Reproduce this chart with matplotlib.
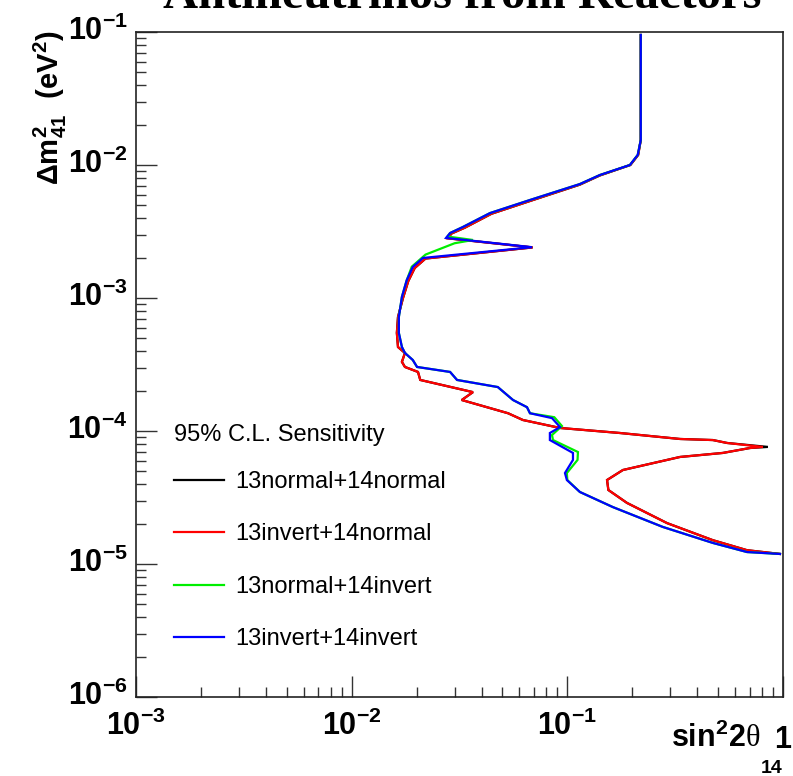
import matplotlib
matplotlib.use("Agg")
import matplotlib.pyplot as plt
import matplotlib.transforms as mtrans
from matplotlib.ticker import FixedLocator, FixedFormatter, LogLocator, NullFormatter

plt.rcParams['font.family'] = ['Liberation Sans', 'DejaVu Sans']
plt.rcParams['mathtext.fontset'] = 'custom'
plt.rcParams['mathtext.bf'] = 'Liberation Sans:bold'
plt.rcParams['mathtext.rm'] = 'Liberation Serif'
plt.rcParams['mathtext.it'] = 'Liberation Sans:italic'

# ---------------- data ----------------
series_labels = ["13normal+14normal", "13invert+14normal",
                 "13normal+14invert", "13invert+14invert"]
series_colors = ["#000000", "#ff0000", "#00ee00", "#0000ff"]

# 13invert+14invert (blue)
ii_x = [0.219, 0.219, 0.212, 0.195, 0.1416, 0.1143, 0.0672, 0.0438, 0.0328, 0.0286,
        0.0274, 0.0686, 0.0214, 0.0192, 0.0180, 0.0171, 0.01655, 0.01655, 0.0171, 0.01766,
        0.0192, 0.0201, 0.0286, 0.0308, 0.0476, 0.0560, 0.0650, 0.0671, 0.0849, 0.0925,
        0.0830, 0.0830, 0.1062, 0.1062, 0.0975, 0.0995, 0.1143, 0.1625, 0.277, 0.473,
        0.681, 0.968]
ii_y = [0.095, 0.0154, 0.0119, 0.0100, 0.00841, 0.00719, 0.00546, 0.00435, 0.00342, 0.00308,
        0.00283, 0.00241, 0.00200, 0.00171, 0.00136, 0.00102, 0.00072, 0.000546, 0.000428, 0.000386,
        0.000342, 0.000303, 0.000278, 0.000242, 0.000214, 0.000171, 0.000151, 0.000136, 0.000125, 0.000107,
        9.66e-5, 8.55e-5, 6.84e-5, 6.06e-5, 4.83e-5, 4.28e-5, 3.48e-5, 2.68e-5, 1.90e-5, 1.44e-5,
        1.23e-5, 1.19e-5]

# 13normal+14invert (green)
ni_x = [0.219, 0.219, 0.212, 0.195, 0.1416, 0.1143, 0.0672, 0.0438, 0.0328, 0.0286,
        0.0278, 0.0365, 0.0300, 0.0220, 0.0190, 0.0180, 0.0171, 0.01655, 0.01655,
        0.0171, 0.01766, 0.0192, 0.0201, 0.0286, 0.0308, 0.0476, 0.0560, 0.0650, 0.0671,
        0.0870, 0.0944, 0.0849, 0.0858, 0.1120, 0.1115, 0.0995, 0.1000, 0.1143, 0.1625,
        0.277, 0.473, 0.681, 0.968]
ni_y = [0.095, 0.0154, 0.0119, 0.0100, 0.00841, 0.00719, 0.00546, 0.00435, 0.00342, 0.00308,
        0.00290, 0.00273, 0.00258, 0.00212, 0.00172, 0.00136, 0.00102, 0.00072, 0.000546,
        0.000428, 0.000386, 0.000342, 0.000303, 0.000278, 0.000242, 0.000214, 0.000171, 0.000151, 0.000136,
        0.000127, 0.000109, 9.33e-5, 8.55e-5, 6.95e-5, 6.06e-5, 4.83e-5, 4.28e-5, 3.48e-5, 2.68e-5,
        1.90e-5, 1.44e-5, 1.23e-5, 1.19e-5]

# 13invert+14normal (red)
in_x = [0.219, 0.219, 0.213, 0.196, 0.1416, 0.1143, 0.0680, 0.0445, 0.0335, 0.0290,
        0.0278, 0.0690, 0.0220, 0.0196, 0.0183, 0.0173, 0.0164, 0.0162, 0.0164, 0.01766,
        0.0171, 0.01766, 0.0203, 0.0208, 0.0365, 0.0324, 0.0531, 0.0622, 0.0925, 0.1754,
        0.333, 0.473, 0.550, 0.807, 0.703, 0.526, 0.333, 0.181, 0.1528, 0.155,
        0.189, 0.290, 0.473, 0.681, 0.968]
in_y = [0.095, 0.0154, 0.0119, 0.0100, 0.00835, 0.00712, 0.00540, 0.00430, 0.00338, 0.00305,
        0.00281, 0.00240, 0.00198, 0.00168, 0.00134, 0.00100, 0.00072, 0.000546, 0.000428, 0.000386,
        0.000331, 0.000303, 0.000278, 0.000242, 0.000196, 0.000171, 0.000136, 0.000121, 0.0001054, 9.66e-5,
        8.71e-5, 8.55e-5, 8.13e-5, 7.59e-5, 7.45e-5, 6.84e-5, 6.38e-5, 5.09e-5, 4.28e-5, 3.60e-5,
        2.88e-5, 2.03e-5, 1.51e-5, 1.27e-5, 1.19e-5]

# 13normal+14normal (black)
nn_x = [0.219, 0.219, 0.213, 0.196, 0.1416, 0.1143, 0.0680, 0.0445, 0.0335, 0.0290,
        0.0280, 0.0690, 0.0220, 0.0196, 0.0183, 0.0173, 0.0164, 0.0162, 0.0164, 0.01766,
        0.0171, 0.01766, 0.0203, 0.0208, 0.0365, 0.0324, 0.0531, 0.0622, 0.0925, 0.1754,
        0.333, 0.473, 0.550, 0.851, 0.703, 0.526, 0.333, 0.181, 0.1528, 0.155,
        0.189, 0.290, 0.473, 0.681, 0.968]
nn_y = in_y

x_ticks = [1e-3, 1e-2, 1e-1, 1.0]
x_ticklabels = [r'$\mathbf{10^{-3}}$', r'$\mathbf{10^{-2}}$', r'$\mathbf{10^{-1}}$', '']
y_ticks = [1e-6, 1e-5, 1e-4, 1e-3, 1e-2, 1e-1]
y_ticklabels = [r'$\mathbf{10^{-6}}$', r'$\mathbf{10^{-5}}$', r'$\mathbf{10^{-4}}$',
                r'$\mathbf{10^{-3}}$', r'$\mathbf{10^{-2}}$', r'$\mathbf{10^{-1}}$']

# ---------------- figure ----------------
W, H = 793, 776
fig = plt.figure(figsize=(W / 100, H / 100), dpi=100)
ax = fig.add_axes([136 / W, 1 - 697 / H, (783 - 136) / W, (697 - 32) / H])
ax.set_xscale('log')
ax.set_yscale('log')

curves = [(nn_x, nn_y), (in_x, in_y), (ni_x, ni_y), (ii_x, ii_y)]
for (xs, ys), lab, col in zip(curves, series_labels, series_colors):
    ax.plot(xs, ys, color=col, lw=1.6, label=lab, solid_joinstyle='miter')

ax.set_xlim(1e-3, 1)
ax.set_ylim(1e-6, 1e-1)

ax.xaxis.set_major_locator(FixedLocator(x_ticks))
ax.xaxis.set_major_formatter(FixedFormatter(x_ticklabels))
ax.yaxis.set_major_locator(FixedLocator(y_ticks))
ax.yaxis.set_major_formatter(FixedFormatter(y_ticklabels))
ax.xaxis.set_minor_locator(LogLocator(base=10, subs=range(2, 10), numticks=20))
ax.yaxis.set_minor_locator(LogLocator(base=10, subs=range(2, 10), numticks=20))
ax.xaxis.set_minor_formatter(NullFormatter())
ax.yaxis.set_minor_formatter(NullFormatter())

ax.tick_params(which='both', direction='in', top=False, right=False, width=1.0, color='#333333')
ax.tick_params(which='major', length=15, labelsize=22)
ax.tick_params(which='minor', length=7.5)
ax.tick_params(axis='x', which='major', pad=10)
ax.tick_params(axis='y', which='major', pad=6)
for s in ax.spines.values():
    s.set_linewidth(1.2)
    s.set_color('#222222')

# raise the y tick labels so that "10" sits centred on the tick
y_shift = mtrans.ScaledTranslation(0, 3 / 72, fig.dpi_scale_trans)
for lab in ax.yaxis.get_majorticklabels():
    lab.set_transform(lab.get_transform() + y_shift)

# label "1" at x = 1 (lower than the others, as in the reference)
ax.annotate(r'$\mathbf{1}$', xy=(1.0, 0), xycoords=('data', 'axes fraction'),
            xytext=(0, -20), textcoords='offset points', ha='center', va='top',
            fontsize=22)

# axis titles
fig.text(760 / W, 1 - 747 / H, r'$\mathbf{sin^{2}2}\mathrm{\theta}$', ha='right',
         va='baseline', fontsize=22)
fig.text(772 / W, 1 - 773 / H, '14', ha='center', va='baseline', fontsize=14,
         fontweight='bold')
fig.text(50 / W, 1 - 30 / H, r'$\mathbf{\Delta m^{2}_{41}\ \ (eV^{2})}$', rotation=90,
         ha='center', va='top', fontsize=21)

# main title (cut by the top edge, as in the reference)
fig.text(462 / W, 1 - 8 / H, 'Antineutrinos from Reactors', ha='center', va='baseline',
         fontsize=35, fontweight='bold', family='Liberation Serif')

leg_fs = 17
leg_sp = 1.29
leg = ax.legend(loc='upper left', bbox_to_anchor=(174 / W, 1 - 424 / H),
                bbox_transform=fig.transFigure, frameon=False, fontsize=leg_fs,
                title='95% C.L. Sensitivity', title_fontsize=leg_fs,
                handlelength=2.1, handletextpad=0.5, labelspacing=leg_sp,
                borderpad=0, borderaxespad=0, alignment='left')
leg._legend_box.sep = leg_sp * leg_fs - 4.0
for line in leg.get_lines():
    line.set_linewidth(1.6)

fig.savefig('out.png', dpi=100)
